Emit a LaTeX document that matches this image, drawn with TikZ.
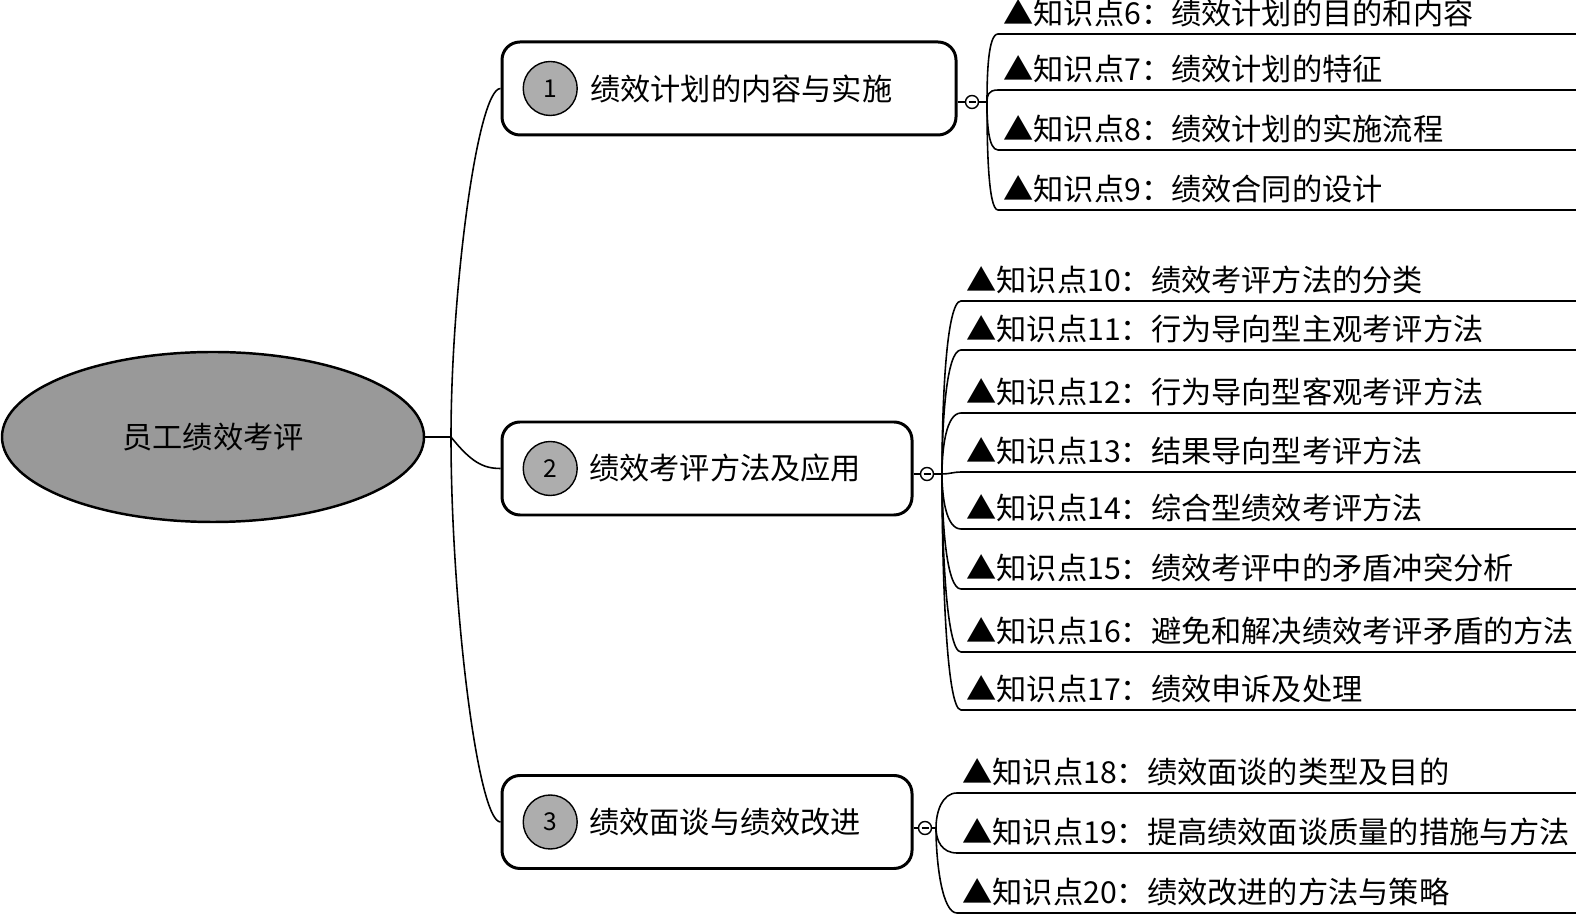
\documentclass[tikz,border=0pt]{standalone}
\usepackage{fontspec}
\setmainfont{Noto Sans CJK SC}
\usepackage{xcolor}
\usetikzlibrary{
    positioning,
    shapes.geometric
}
\definecolor{rootgray}{gray}{0.60}
\definecolor{badgegray}{gray}{0.68}

\begin{document}
\begin{tikzpicture}[
    font=\fontsize{17.2pt}{20pt}\selectfont,
    root/.style={
        ellipse,
        draw=black,
        line width=1.4pt,
        fill=rootgray,
        minimum width=8.44cm,
        minimum height=3.4cm
    },
    branch/.style={
        rectangle,
        rounded corners=0.36cm,
        draw=black,
        line width=1.7pt,
        minimum height=1.86cm,
        fill=white
    },
    badge/.style={
        circle,
        draw=black,
        line width=0.8pt,
        fill=badgegray,
        minimum size=1.08cm,
        inner sep=0pt,
        font=\fontsize{14pt}{16pt}\selectfont
    },
    fold/.style={
        circle,
        draw=black,
        line width=0.8pt,
        fill=white,
        minimum size=0.26cm,
        inner sep=0pt,
        path picture={
            \draw[line width=0.8pt]
                ([xshift=-0.07cm]path picture bounding box.center) --
                ([xshift=0.07cm]path picture bounding box.center);
        }
    },
    leaf/.style={
        anchor=south west,
        inner xsep=0.1cm,
        inner ysep=0.13cm,
        align=left,
        text width=#1
    },
    link/.style={
        draw=black,
        line width=0.9pt
    },
    curveup/.style={out=90, in=180, in distance=#1},
    curveup/.default=0.3cm,
    curvedown/.style={out=-90, in=180, in distance=#1},
    curvedown/.default=0.3cm
]

\useasboundingbox (0,0) rectangle (31.52,18.30);

% =========================================================
% Root topic
% =========================================================
\node[root] (root) at (4.26,9.56) {员工绩效考评};
\coordinate (hub) at (9.02,9.56);

% =========================================================
% Main branches
% =========================================================
\node[branch, minimum width=9.08cm] (b1) at (14.58,16.53) {};
\node[badge, right=0.44cm of b1.west] (n1) {1};
\node[right=0.12cm of n1] (t1) {绩效计划的内容与实施};

\node[branch, minimum width=8.2cm] (b2) at (14.14,8.93) {};
\node[badge, right=0.44cm of b2.west] (n2) {2};
\node[right=0.1cm of n2] (t2) {绩效考评方法及应用};

\node[branch, minimum width=8.2cm] (b3) at (14.14,1.86) {};
\node[badge, right=0.44cm of b3.west] (n3) {3};
\node[right=0.1cm of n3] (t3) {绩效面谈与绩效改进};

% fold markers and junctions
\node[fold] (f1) at (19.44,16.26) {};
\node[fold] (f2) at (18.54,8.82) {};
\node[fold] (f3) at (18.50,1.74) {};
\coordinate (j1) at (19.74,16.26);
\coordinate (j2) at (18.84,8.82);
\coordinate (j3) at (18.72,1.74);

% =========================================================
% Knowledge points
% =========================================================
\node[leaf=11.36cm] (k6) at (19.96,17.62) {▲知识点6：绩效计划的目的和内容};
\node[leaf=11.36cm] (k7) at (19.96,16.50) {▲知识点7：绩效计划的特征};
\node[leaf=11.36cm] (k8) at (19.96,15.30) {▲知识点8：绩效计划的实施流程};
\node[leaf=11.36cm] (k9) at (19.96,14.10) {▲知识点9：绩效合同的设计};

\node[leaf=12.10cm] (k10) at (19.22,12.28) {▲知识点10：绩效考评方法的分类};
\node[leaf=12.10cm] (k11) at (19.22,11.30) {▲知识点11：行为导向型主观考评方法};
\node[leaf=12.10cm] (k12) at (19.22,10.04) {▲知识点12：行为导向型客观考评方法};
\node[leaf=12.10cm] (k13) at (19.22,8.86) {▲知识点13：结果导向型考评方法};
\node[leaf=12.10cm] (k14) at (19.22,7.72) {▲知识点14：综合型绩效考评方法};
\node[leaf=12.10cm] (k15) at (19.22,6.52) {▲知识点15：绩效考评中的矛盾冲突分析};
\node[leaf=12.10cm] (k16) at (19.22,5.26) {▲知识点16：避免和解决绩效考评矛盾的方法};
\node[leaf=12.10cm] (k17) at (19.22,4.10) {▲知识点17：绩效申诉及处理};

\node[leaf=12.18cm] (k18) at (19.14,2.44) {▲知识点18：绩效面谈的类型及目的};
\node[leaf=12.18cm] (k19) at (19.14,1.24) {▲知识点19：提高绩效面谈质量的措施与方法};
\node[leaf=12.18cm] (k20) at (19.14,0.04) {▲知识点20：绩效改进的方法与策略};

% =========================================================
% Connectors
% =========================================================
\draw[link] (root.east) -- (hub);
\draw[link] (hub) .. controls +(0,2.94) and +(-0.46,0) .. (b1.west);
\draw[link] (hub) .. controls +(0.4,-0.5) and +(-0.35,0) .. (b2.west);
\draw[link] (hub) .. controls +(0,-3.3) and +(-0.46,0) .. (b3.west);

\draw[link] (f1.west -| b1.east) -- (f1.west);
\draw[link] (f2.west -| b2.east) -- (f2.west);
\draw[link] (f3.west -| b3.east) -- (f3.west);
\draw[link] (f1.east) -- (j1);
\draw[link] (f2.east) -- (j2);
\draw[link] (f3.east) -- (j3);

\draw[link] (j1) to[curveup=0.2cm] (k6.south west) -- (k6.south east);
\draw[link] (j1) to[curveup=0.2cm] (k7.south west) -- (k7.south east);
\draw[link] (j1) to[curvedown=0.2cm] (k8.south west) -- (k8.south east);
\draw[link] (j1) to[curvedown=0.2cm] (k9.south west) -- (k9.south east);

\draw[link] (j2) to[curveup] (k10.south west) -- (k10.south east);
\draw[link] (j2) to[curveup] (k11.south west) -- (k11.south east);
\draw[link] (j2) to[curveup] (k12.south west) -- (k12.south east);
\draw[link] (j2) to[out=0, in=180] (k13.south west) -- (k13.south east);
\draw[link] (j2) to[curvedown] (k14.south west) -- (k14.south east);
\draw[link] (j2) to[curvedown] (k15.south west) -- (k15.south east);
\draw[link] (j2) to[curvedown] (k16.south west) -- (k16.south east);
\draw[link] (j2) to[curvedown] (k17.south west) -- (k17.south east);

\draw[link] (j3) to[curveup] (k18.south west) -- (k18.south east);
\draw[link] (j3) to[curvedown] (k19.south west) -- (k19.south east);
\draw[link] (j3) to[curvedown] (k20.south west) -- (k20.south east);

\end{tikzpicture}
\end{document}
